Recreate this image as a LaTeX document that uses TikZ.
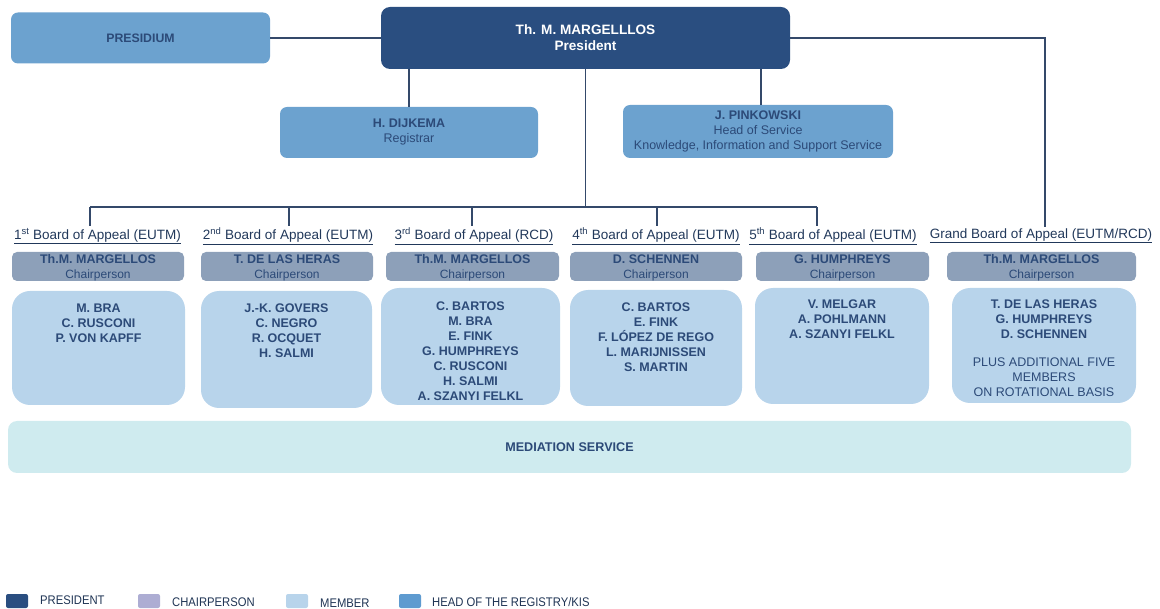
\documentclass[tikz,border=0pt]{standalone}
\usepackage{fontspec}
\setmainfont{Liberation Sans}
\usepackage{graphicx}
\begin{document}
\definecolor{presfill}{HTML}{2A4E80}
\definecolor{headfill}{HTML}{6CA2CF}
\definecolor{chairfill}{HTML}{8DA0B9}
\definecolor{memfill}{HTML}{B8D4EB}
\definecolor{medfill}{HTML}{CFEBEF}
\definecolor{txt}{HTML}{2C4A78}
\definecolor{linec}{HTML}{34496A}
\definecolor{legchair}{HTML}{ADADD3}
\definecolor{leghead}{HTML}{5E9BD0}
\newcommand{\fs}[2]{\fontsize{#1}{#2}\selectfont}
\newcommand{\chairtxt}[1]{\textbf{#1}\\{\fs{12}{15}Chairperson}}
\begin{tikzpicture}[x=1pt,y=-1pt,
  box/.style={rounded corners=7pt, inner sep=0pt, align=center, text=txt},
  headbox/.style={box, fill=headfill},
  chairbox/.style={box, rounded corners=5pt, fill=chairfill, minimum width=172pt, minimum height=29pt, font=\fs{12.5}{15}},
  chairtext/.style={align=center, text=txt, inner sep=0pt, font=\fs{12.5}{15}},
  membox/.style={box, rounded corners=18pt, fill=memfill},
  memtext/.style={anchor=north, align=center, text=txt, inner sep=0pt, font=\fs{12.5}{15}\bfseries},
  boardlab/.style={inner sep=1.5pt, text=txt!75!black, font=\fs{13.5}{15}},
  conn/.style={draw=linec, line width=1.6pt},
  legsq/.style={fill=#1, rounded corners=2pt, minimum width=22pt, minimum height=14pt, inner sep=0pt},
  legtext/.style={anchor=west, inner sep=0pt, text=txt!70!black, font=\fs{12.5}{14}}
]
\useasboundingbox (0,0) rectangle (1160,609);

% --- top level ---
\node[headbox, minimum width=259pt, minimum height=51pt, font=\fs{12.3}{14}\bfseries] (presidium) at (140.5,38) {PRESIDIUM};
\node[box, fill=presfill, text=white, rounded corners=9pt, minimum width=409pt, minimum height=62pt, font=\fs{13.6}{16}\bfseries] (pres) at (585.5,38) {Th. M. MARGELLLOS\\President};
\node[headbox, minimum width=258pt, minimum height=51pt, font=\fs{12.5}{15}] (dij) at (409,132.5) {\textbf{H. DIJKEMA}\\Registrar};
\node[headbox, minimum width=270pt, minimum height=53pt, font=\fs{12.5}{15}] (pink) at (758,131.5) {\textbf{J. PINKOWSKI}\\Head of Service\\Knowledge, Information and Support Service};

% --- board headings ---
\node[boardlab] (lab1) at (97.5,236) {\underline{1\textsuperscript{st} Board of Appeal (EUTM)}};
\node[boardlab] (lab2) at (288,236) {\underline{2\textsuperscript{nd} Board of Appeal (EUTM)}};
\node[boardlab] (lab3) at (474,236) {\underline{3\textsuperscript{rd} Board of Appeal (RCD)}};
\node[boardlab] (lab4) at (656,236) {\underline{4\textsuperscript{th} Board of Appeal (EUTM)}};
\node[boardlab] (lab5) at (833,236) {\underline{5\textsuperscript{th} Board of Appeal (EUTM)}};
\node[boardlab] (lab6) at (1041,236) {\underline{Grand Board of Appeal (EUTM/RCD)}};

% --- chairpersons (box, then its two text lines) ---
\node[chairbox] (ch1) at (98,266.5) {};
\node[chairbox, minimum width=172pt] (ch2) at (287,266.5) {};
\node[chairbox, minimum width=173pt] (ch3) at (472.5,266.5) {};
\node[chairbox] (ch4) at (656,266.5) {};
\node[chairbox, minimum width=173pt] (ch5) at (842.5,266.5) {};
\node[chairbox, minimum width=189pt] (ch6) at (1041.5,266.5) {};
\node[chairtext] (c1) at ([yshift=-1.5pt]ch1.center) {\chairtxt{Th.M. MARGELLOS}};
\node[chairtext] (c2) at ([yshift=-1.5pt]ch2.center) {\chairtxt{T. DE LAS HERAS}};
\node[chairtext] (c3) at ([yshift=-1.5pt]ch3.center) {\chairtxt{Th.M. MARGELLOS}};
\node[chairtext] (c4) at ([yshift=-1.5pt]ch4.center) {\chairtxt{D. SCHENNEN}};
\node[chairtext] (c5) at ([yshift=-1.5pt]ch5.center) {\chairtxt{G. HUMPHREYS}};
\node[chairtext] (c6) at ([yshift=-1.5pt]ch6.center) {\chairtxt{Th.M. MARGELLOS}};

% --- members ---
\node[membox, minimum width=173pt, minimum height=114pt] (m1) at (98.5,348) {};
\node[membox, minimum width=171pt, minimum height=117pt] (m2) at (286.5,349.5) {};
\node[membox, minimum width=179pt, minimum height=117pt] (m3) at (470.5,346.5) {};
\node[membox, minimum width=172pt, minimum height=116pt] (m4) at (656,348) {};
\node[membox, minimum width=174pt, minimum height=116pt] (m5) at (842,346) {};
\node[membox, minimum width=184pt, minimum height=115pt] (m6) at (1044,345.5) {};

\node[memtext] (t1) at ([yshift=-12.5pt]m1.north) {M. BRA\\C. RUSCONI\\P. VON KAPFF};
\node[memtext] (t2) at ([yshift=-12.5pt]m2.north) {J.-K. GOVERS\\C. NEGRO\\R. OCQUET\\H. SALMI};
\node[memtext] (t3) at ([yshift=-13.5pt]m3.north) {C. BARTOS\\M. BRA\\E. FINK\\G. HUMPHREYS\\C. RUSCONI\\H. SALMI\\A. SZANYI FELKL};
\node[memtext] (t4) at ([yshift=-12.5pt]m4.north) {C. BARTOS\\E. FINK\\F. LÓPEZ DE REGO\\L. MARIJNISSEN\\S. MARTIN};
\node[memtext] (t5) at ([yshift=-11.5pt]m5.north) {V. MELGAR\\A. POHLMANN\\A. SZANYI FELKL};
\node[memtext] (t6) at ([yshift=-11.5pt]m6.north) {T. DE LAS HERAS\\G. HUMPHREYS\\D. SCHENNEN\\[13pt]\mdseries PLUS ADDITIONAL FIVE\\\mdseries MEMBERS\\\mdseries ON ROTATIONAL BASIS};

% --- mediation ---
\node[box, fill=medfill, rounded corners=9pt, minimum width=1123pt, minimum height=52pt, font=\fs{12.6}{14}\bfseries] (med) at (569.5,447) {MEDIATION SERVICE};

% --- connectors ---
\coordinate (bus)  at (585.5,207);
\coordinate (b1)   at (90,207);
\coordinate (b2)   at (289,207);
\coordinate (b3)   at (472,207);
\coordinate (b4)   at (657,207);
\coordinate (b5)   at (817,207);
\coordinate (grand) at (1045,38);

\draw[conn] (presidium.east) -- (presidium.east -| pres.west);
\draw[conn] (pres.east) -- (grand) -- (grand |- lab6.north);
\draw[conn] (dij.north |- pres.south) -- (dij.north);
\draw[conn] ([xshift=3pt]pink.north |- pres.south) -- ([xshift=3pt]pink.north);
\draw[conn] (pres.south) -- (bus);
\draw[conn] (b1) -- (b5);
\draw[conn] (b1) -- (b1 |- lab1.north);
\draw[conn] (b2) -- (b2 |- lab2.north);
\draw[conn] (b3) -- (b3 |- lab3.north);
\draw[conn] (b4) -- (b4 |- lab4.north);
\draw[conn] (b5) -- (b5 |- lab5.north);

% --- legend ---
\node[legsq=presfill] (k1) at (17,601) {};
\node[legtext] (k1t) at (40,600) {\scalebox{0.9}[1]{PRESIDENT}};
\node[legsq=legchair] (k2) at (149,601) {};
\node[legtext] (k2t) at (172,602) {\scalebox{0.9}[1]{CHAIRPERSON}};
\node[legsq=memfill] (k3) at (297,601) {};
\node[legtext] (k3t) at (320,603) {\scalebox{0.9}[1]{MEMBER}};
\node[legsq=leghead] (k4) at (410,601) {};
\node[legtext] (k4t) at (432,602) {\scalebox{0.9}[1]{HEAD OF THE REGISTRY/KIS}};
\end{tikzpicture}
\end{document}
